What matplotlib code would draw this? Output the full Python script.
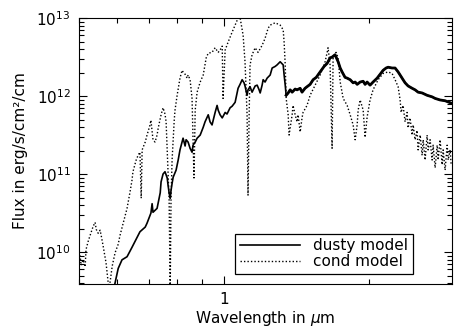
import numpy as np
import matplotlib
matplotlib.use("Agg")
import matplotlib.pyplot as plt
from matplotlib.ticker import LogLocator, NullFormatter, FuncFormatter

# wavelength in micron, log10 flux in erg/s/cm2/cm
dusty_wl = [0.590, 0.603, 0.614, 0.629, 0.644, 0.660, 0.669, 0.686, 0.692, 0.705,
            0.709, 0.712, 0.726, 0.737, 0.740, 0.747, 0.754, 0.762, 0.765, 0.769,
            0.773, 0.776, 0.780, 0.784, 0.795, 0.803, 0.810, 0.822, 0.830, 0.834,
            0.842, 0.850, 0.858, 0.862, 0.871, 0.879, 0.892, 0.905, 0.913, 0.927,
            0.935, 0.944, 0.958, 0.967, 0.972, 0.981, 0.991, 1.005, 1.014, 1.029,
            1.039, 1.054, 1.069, 1.079, 1.090, 1.100, 1.105, 1.116, 1.121, 1.132,
            1.143, 1.149, 1.160, 1.171, 1.182, 1.188, 1.199, 1.205, 1.216, 1.228,
            1.246, 1.258, 1.276, 1.288, 1.307, 1.326, 1.332, 1.339, 1.345, 1.358,
            1.371, 1.384, 1.404, 1.417, 1.438, 1.451, 1.472, 1.486, 1.508, 1.530,
            1.553, 1.582, 1.612, 1.636, 1.659, 1.675, 1.699, 1.724, 1.741, 1.757,
            1.782, 1.800, 1.826, 1.852, 1.870, 1.888, 1.915, 1.943, 1.961, 1.980,
            2.008, 2.037, 2.077, 2.107, 2.137, 2.168, 2.189, 2.231, 2.263, 2.296,
            2.318, 2.351, 2.374, 2.408, 2.455, 2.490, 2.526, 2.575, 2.637, 2.701,
            2.740, 2.806, 2.874, 2.958]
dusty_logf = [9.52, 9.79, 9.90, 9.94, 10.06, 10.19, 10.26, 10.32, 10.37, 10.50,
              10.62, 10.51, 10.56, 10.76, 10.90, 11.00, 11.03, 10.95, 10.86, 10.76,
              10.69, 10.79, 10.88, 10.96, 11.05, 11.18, 11.31, 11.46, 11.36, 11.44,
              11.41, 11.33, 11.28, 11.37, 11.41, 11.46, 11.50, 11.60, 11.67, 11.76,
              11.67, 11.63, 11.79, 11.88, 11.82, 11.76, 11.72, 11.79, 11.77, 11.85,
              11.87, 11.92, 12.10, 12.15, 12.21, 12.17, 12.13, 12.01, 12.08, 12.12,
              12.05, 12.08, 12.13, 12.14, 12.08, 12.04, 12.14, 12.21, 12.18, 12.23,
              12.27, 12.36, 12.38, 12.40, 12.44, 12.40, 12.27, 12.14, 12.01, 12.04,
              12.08, 12.05, 12.09, 12.08, 12.10, 12.05, 12.10, 12.12, 12.15, 12.21,
              12.24, 12.31, 12.38, 12.42, 12.49, 12.50, 12.53, 12.44, 12.36, 12.31,
              12.24, 12.23, 12.21, 12.17, 12.18, 12.15, 12.18, 12.19, 12.15, 12.18,
              12.14, 12.18, 12.23, 12.28, 12.33, 12.36, 12.37, 12.36, 12.36, 12.31,
              12.27, 12.21, 12.17, 12.13, 12.10, 12.08, 12.05, 12.04, 12.01, 11.99,
              11.97, 11.95, 11.94, 11.91]

cond_wl = [0.498, 0.503, 0.505, 0.510, 0.515, 0.517, 0.522, 0.527, 0.535, 0.540,
           0.543, 0.548, 0.553, 0.556, 0.561, 0.569, 0.577, 0.586, 0.594, 0.603,
           0.608, 0.614, 0.623, 0.629, 0.638, 0.644, 0.647, 0.657, 0.663, 0.669,
           0.673, 0.676, 0.686, 0.692, 0.702, 0.705, 0.709, 0.712, 0.719, 0.726,
           0.730, 0.740, 0.747, 0.754, 0.758, 0.762, 0.769, 0.773, 0.776, 0.780,
           0.788, 0.791, 0.799, 0.810, 0.818, 0.822, 0.830, 0.838, 0.842, 0.850,
           0.858, 0.866, 0.871, 0.879, 0.892, 0.905, 0.918, 0.927, 0.944, 0.958,
           0.972, 0.981, 0.991, 0.995, 1.005, 1.019, 1.039, 1.054, 1.069, 1.079,
           1.095, 1.105, 1.116, 1.121, 1.127, 1.132, 1.143, 1.160, 1.176, 1.199,
           1.216, 1.234, 1.246, 1.276, 1.307, 1.326, 1.332, 1.339, 1.345, 1.358,
           1.364, 1.384, 1.390, 1.404, 1.417, 1.424, 1.438, 1.451, 1.458, 1.486,
           1.508, 1.545, 1.582, 1.620, 1.636, 1.643, 1.659, 1.675, 1.683, 1.707,
           1.724, 1.741, 1.766, 1.800, 1.826, 1.852, 1.870, 1.888, 1.897, 1.915,
           1.943, 1.961, 1.980, 2.008, 2.037, 2.087, 2.137, 2.189, 2.231, 2.263,
           2.296, 2.318, 2.329, 2.351, 2.374, 2.397, 2.408, 2.431, 2.455, 2.467,
           2.490, 2.514, 2.526, 2.551, 2.575, 2.588, 2.612, 2.637, 2.650, 2.675,
           2.701, 2.714, 2.740, 2.767, 2.780, 2.806, 2.833, 2.847, 2.874, 2.902,
           2.916, 2.944, 2.958]
cond_logf = [10.00, 9.94, 9.83, 9.90, 9.81, 10.03, 10.13, 10.21, 10.33, 10.38,
             10.29, 10.24, 10.28, 10.21, 10.08, 9.86, 9.51, 9.82, 9.99, 10.10,
             10.21, 10.31, 10.46, 10.56, 10.77, 10.92, 11.03, 11.18, 11.24, 11.28,
             10.69, 11.31, 11.41, 11.50, 11.63, 11.69, 11.54, 11.44, 11.41, 11.50,
             11.59, 11.76, 11.85, 11.77, 11.67, 11.31, 10.67, 9.51, 10.67, 11.18,
             11.69, 11.82, 12.01, 12.23, 12.33, 12.31, 12.28, 12.23, 12.27, 12.21,
             11.97, 10.95, 11.82, 12.05, 12.18, 12.27, 12.49, 12.55, 12.56, 12.62,
             12.56, 12.59, 12.64, 11.97, 12.59, 12.69, 12.82, 12.91, 13.00, 13.01,
             12.78, 12.44, 11.76, 10.73, 11.76, 12.40, 12.53, 12.62, 12.56, 12.65,
             12.74, 12.87, 12.91, 12.94, 12.91, 12.85, 12.69, 12.40, 11.97, 11.76,
             11.50, 11.76, 11.88, 11.76, 11.67, 11.76, 11.54, 11.72, 11.79, 11.88,
             12.01, 12.14, 12.27, 12.44, 12.56, 12.62, 12.40, 11.33, 12.49, 12.56,
             12.49, 12.18, 11.97, 11.88, 11.76, 11.63, 11.44, 11.63, 11.82, 11.95,
             11.82, 11.47, 11.73, 11.95, 12.08, 12.21, 12.29, 12.31, 12.29, 12.21,
             12.12, 11.95, 11.79, 11.88, 11.67, 11.79, 11.59, 11.72, 11.50, 11.63,
             11.44, 11.56, 11.31, 11.50, 11.24, 11.44, 11.18, 11.50, 11.31, 11.44,
             11.18, 11.37, 11.08, 11.37, 11.18, 11.44, 11.12, 11.31, 11.05, 11.37,
             11.18, 11.31, 11.12]

dusty_wl = np.array(dusty_wl)
dusty_flux = 10 ** np.array(dusty_logf)
cond_wl = np.array(cond_wl)
cond_flux = 10 ** np.array(cond_logf)

plt.rcParams['font.family'] = ['DejaVu Sans']
plt.rcParams['font.size'] = 11

fig = plt.figure(figsize=(4.54, 3.29), dpi=100)
ax = fig.add_axes([0.174, 0.137, 0.8216, 0.808])

ax.plot(dusty_wl, dusty_flux, color='black', lw=1.2, label='dusty model')
red = dusty_wl >= 1.34
ax.plot(dusty_wl[red], dusty_flux[red], color='black', lw=2.0)
ax.plot(cond_wl, cond_flux, color='black', lw=1.0, linestyle=(0, (1, 1.5)),
        label='cond model')

ax.set_xscale('log')
ax.set_yscale('log')
ax.set_xlim(0.5, 2.97)
ax.set_ylim(3.9e9, 1e13)

ax.xaxis.set_major_formatter(FuncFormatter(lambda v, p: f'{v:g}'))
ax.xaxis.set_minor_locator(LogLocator(subs=np.arange(2, 10)))
ax.xaxis.set_minor_formatter(NullFormatter())
ax.yaxis.set_minor_formatter(NullFormatter())
ax.tick_params(which='both', direction='in', top=True, right=True, width=0.8)
ax.tick_params(which='major', length=6, pad=6)
ax.tick_params(which='minor', length=3.5)
for s in ax.spines.values():
    s.set_linewidth(0.8)

ax.set_xlabel(r'Wavelength in $\mu$m', labelpad=1)
ax.set_ylabel('Flux in erg/s/cm²/cm', labelpad=6)

leg = ax.legend(loc='lower right', bbox_to_anchor=(0.895, 0.038), borderaxespad=0,
                fancybox=False, edgecolor='black', framealpha=1, handlelength=3.9,
                labelspacing=0.05, borderpad=0.3, handletextpad=0.9)
leg.get_frame().set_linewidth(0.9)

fig.savefig('out.png', dpi=100)
